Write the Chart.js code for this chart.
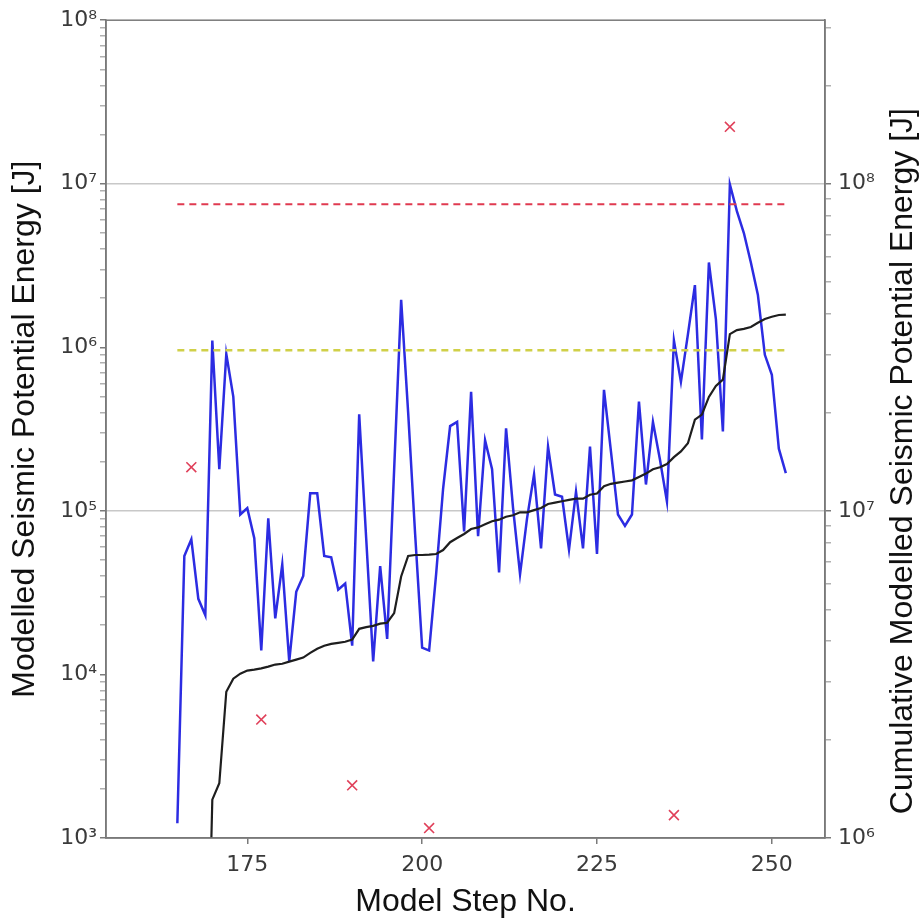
<!DOCTYPE html>
<html>
<head>
<meta charset="utf-8">
<script src="https://cdn.jsdelivr.net/npm/chart.js@4.4.0/dist/chart.umd.min.js"></script>
<style>
  body { margin: 0; background: #fff; }
  canvas { display: block; }
</style>
</head>
<body>
<canvas id="energy-chart" width="920" height="918"></canvas>
<script>
// model steps on the x axis
const steps = [165, 166, 167, 168, 169, 170, 171, 172, 173, 174, 175, 176, 177, 178, 179, 180,
  181, 182, 183, 184, 185, 186, 187, 188, 189, 190, 191, 192, 193, 194, 195, 196, 197, 198, 199, 200,
  201, 202, 203, 204, 205, 206, 207, 208, 209, 210, 211, 212, 213, 214, 215, 216, 217, 218, 219, 220,
  221, 222, 223, 224, 225, 226, 227, 228, 229, 230, 231, 232, 233, 234, 235, 236, 237, 238, 239, 240,
  241, 242, 243, 244, 245, 246, 247, 248, 249, 250, 251, 252]

// modelled seismic potential energy per step [J] (left axis, blue)
const stepEnergy = [1.23e3, 5.3e4, 6.7e4, 2.9e4, 2.3e4, 1.1e6, 1.8e5, 9.1e5, 5.0e5, 9.5e4, 1.04e5,
  6.8e4, 1.4e4, 9.0e4, 2.2e4, 4.7e4, 1.2e4, 3.2e4, 4.0e4, 1.28e5, 1.28e5, 5.3e4, 5.2e4, 3.3e4, 3.6e4,
  1.5e4, 3.9e5, 6.8e4, 1.2e4, 4.6e4, 1.65e4, 1.8e5, 1.95e6, 4.0e5, 7.2e4, 1.46e4, 1.4e4, 4.1e4,
  1.37e5, 3.3e5, 3.5e5, 7.5e4, 5.35e5, 7.0e4, 2.7e5, 1.8e5, 4.2e4, 3.2e5, 1.04e5, 4.1e4, 9.0e4,
  1.67e5, 5.9e4, 2.47e5, 1.26e5, 1.22e5, 5.8e4, 1.31e5, 5.9e4, 2.47e5, 5.45e4, 5.5e5, 2.3e5, 9.5e4,
  8.1e4, 9.5e4, 4.66e5, 1.45e5, 3.5e5, 2.06e5, 1.14e5, 1.1e6, 6.15e5, 1.2e6, 2.4e6, 2.73e5, 3.3e6,
  1.49e6, 3.06e5, 9.9e6, 6.8e6, 5.0e6, 3.3e6, 2.1e6, 9.0e5, 6.8e5, 2.4e5, 1.7e5]

// cumulative modelled energy [J] (right axis, black)
const cumulativeEnergy = [1.2e3, 5.4e4, 1.2e5, 1.5e5, 1.7e5, 1.31e6, 1.47e6, 2.8e6, 3.07e6, 3.18e6,
  3.25e6, 3.27e6, 3.30e6, 3.34e6, 3.39e6, 3.41e6, 3.46e6, 3.51e6, 3.56e6, 3.68e6, 3.79e6, 3.87e6,
  3.92e6, 3.95e6, 3.98e6, 4.04e6, 4.36e6, 4.41e6, 4.45e6, 4.52e6, 4.55e6, 4.87e6, 6.3e6, 7.28e6,
  7.33e6, 7.33e6, 7.35e6, 7.38e6, 7.59e6, 8.02e6, 8.26e6, 8.5e6, 8.8e6, 8.9e6, 9.1e6, 9.3e6, 9.4e6,
  9.6e6, 9.7e6, 9.9e6, 9.9e6, 1.005e7, 1.02e7, 1.05e7, 1.06e7, 1.07e7, 1.08e7, 1.09e7, 1.09e7,
  1.12e7, 1.13e7, 1.19e7, 1.21e7, 1.22e7, 1.23e7, 1.24e7, 1.27e7, 1.30e7, 1.34e7, 1.36e7, 1.39e7,
  1.46e7, 1.52e7, 1.61e7, 1.90e7, 1.97e7, 2.23e7, 2.41e7, 2.52e7, 3.47e7, 3.57e7, 3.6e7, 3.65e7,
  3.76e7, 3.86e7, 3.92e7, 3.97e7, 3.98e7]

// red crosses (left axis)
const crossSteps = [167, 177, 190, 201, 236, 244]
const crossEnergy = [1.85e5, 5.3e3, 2.1e3, 1.15e3, 1.38e3, 2.23e7]

// the two dashed threshold levels (left axis)
const redLevel = 7.5e6
const yellowLevel = 9.6e5

// ticks
const xTicks = [175, 200, 225, 250]
const leftDecades = [1e3, 1e4, 1e5, 1e6, 1e7, 1e8]
const rightDecades = [1e6, 1e7, 1e8]

const sup = { 3: '\u00b3', 4: '\u2074', 5: '\u2075', 6: '\u2076', 7: '\u2077', 8: '\u2078' }
const isDecade = v => Math.abs(Math.log10(v) - Math.round(Math.log10(v))) < 1e-6
const decadeLabel = v => isDecade(v) ? '10' + sup[Math.round(Math.log10(v))] : ''

// decades plus the 2..9 minor ticks in between, cut at max
const logTicks = (decades, max) => {
  const out = []
  decades.forEach(d => {
    for (let k = 1; k <= 9; k++) {
      if (d * k <= max * 1.0001) out.push({ value: d * k, major: k === 1 })
    }
  })
  return out
}

const tickFont = { family: 'DejaVu Sans', size: 22 }
const titleFont = { family: 'Liberation Sans', size: 32, lineHeight: 1 }
const spine = '#7a7a7a'
const rightMax = 3.1623e8

const toXY = (xs, ys) => xs.map((x, i) => ({ x: x, y: ys[i] }))

// top spine and the right-hand title (reads bottom to top like matplotlib)
const framePlugin = {
  id: 'frame',
  afterDraw(chart) {
    const { ctx, chartArea } = chart
    ctx.save()
    ctx.strokeStyle = spine
    ctx.lineWidth = 1.5
    ctx.strokeRect(chartArea.left, chartArea.top, chartArea.right - chartArea.left, chartArea.bottom - chartArea.top)
    ctx.translate(903, (chartArea.top + chartArea.bottom) / 2 + 32)
    ctx.rotate(-Math.PI / 2)
    ctx.fillStyle = '#111'
    ctx.font = '32px "Liberation Sans"'
    ctx.textAlign = 'center'
    ctx.textBaseline = 'middle'
    ctx.fillText('Cumulative Modelled Seismic Potential Energy [J]', 0, 0)
    ctx.restore()
  }
}

const energyChart = new Chart(document.getElementById('energy-chart').getContext('2d'), {
  type: 'line',
  data: {
    datasets: [
      {
        data: toXY(steps, cumulativeEnergy),
        yAxisID: 'y2',
        borderColor: '#1e1e1e',
        borderWidth: 2.2,
        pointRadius: 0,
        order: 0
      },
      {
        data: toXY(crossSteps, crossEnergy),
        yAxisID: 'y',
        showLine: false,
        pointStyle: 'crossRot',
        pointRadius: 7,
        borderColor: '#e0405a',
        borderWidth: 1.6,
        order: 1
      },
      {
        data: toXY([steps[0], steps[steps.length - 1]], [redLevel, redLevel]),
        yAxisID: 'y',
        borderColor: '#e03a50',
        borderWidth: 2,
        borderDash: [7, 5],
        pointRadius: 0,
        order: 2
      },
      {
        data: toXY([steps[0], steps[steps.length - 1]], [yellowLevel, yellowLevel]),
        yAxisID: 'y',
        borderColor: '#d0d048',
        borderWidth: 2.5,
        borderDash: [7, 5],
        pointRadius: 0,
        order: 2
      },
      {
        data: toXY(steps, stepEnergy),
        yAxisID: 'y',
        borderColor: '#2c2ce2',
        borderWidth: 2.5,
        pointRadius: 0,
        order: 3
      }
    ]
  },
  options: {
    responsive: false,
    animation: false,
    devicePixelRatio: 1,
    layout: { padding: { top: 12, left: 0, right: 0, bottom: 0 } },
    plugins: { legend: { display: false }, tooltip: { enabled: false } },
    scales: {
      x: {
        type: 'linear',
        min: 154.8,
        max: 257.6,
        afterBuildTicks: s => { s.ticks = xTicks.map(v => ({ value: v })) },
        afterFit: s => { s.height = 80 },
        grid: { drawOnChartArea: false, drawTicks: true, tickLength: 6, color: spine, lineWidth: 1.5 },
        border: { display: true, color: spine, width: 1.5 },
        ticks: { font: tickFont, color: '#3a3a3a', padding: 8, maxRotation: 0, autoSkip: false },
        title: { display: true, text: 'Model Step No.', font: titleFont, color: '#111', padding: { top: 0, bottom: 0 } }
      },
      y: {
        type: 'logarithmic',
        position: 'left',
        min: 1e3,
        max: 1e8,
        afterBuildTicks: s => { s.ticks = logTicks(leftDecades, 1e8) },
        afterFit: s => { s.width = 106 },
        grid: {
          drawOnChartArea: false,
          drawTicks: true,
          tickLength: 6,
          tickColor: c => c.tick && c.tick.major ? spine : '#b0b0b0',
          lineWidth: 1.5
        },
        border: { display: true, color: spine, width: 1.5 },
        ticks: { font: tickFont, color: '#3a3a3a', padding: 3, autoSkip: false, callback: decadeLabel },
        title: { display: true, text: 'Modelled Seismic Potential Energy [J]', font: titleFont, color: '#111', padding: { top: 9, bottom: 0 } }
      },
      y2: {
        type: 'logarithmic',
        position: 'right',
        min: 1e6,
        max: rightMax,
        afterBuildTicks: s => { s.ticks = logTicks(rightDecades, rightMax) },
        afterFit: s => { s.width = 95 },
        grid: {
          drawOnChartArea: true,
          drawTicks: true,
          tickLength: 6,
          color: c => c.tick && c.tick.major && c.tick.value > 1e6 ? '#c8c8c8' : 'rgba(0,0,0,0)',
          tickColor: c => c.tick && c.tick.major ? spine : '#b0b0b0',
          lineWidth: 1.5
        },
        border: { display: true, color: spine, width: 1.5 },
        ticks: { font: tickFont, color: '#3a3a3a', padding: 7, autoSkip: false, callback: decadeLabel }
      }
    }
  },
  plugins: [framePlugin]
})
</script>
</body>
</html>
